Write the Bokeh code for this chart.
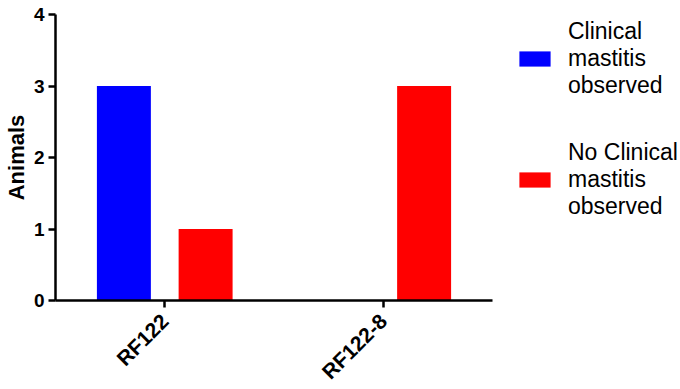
import math
from bokeh.plotting import figure
from bokeh.models import (FactorRange, Range1d, Legend, LegendItem,
                          ColumnDataSource, FixedTicker)
from bokeh.transform import dodge
from bokeh.embed import file_html
from bokeh.resources import INLINE

groups = ["RF122", "RF122-8"]
clinical = [3, 0]
no_clinical = [1, 3]
series_labels = ["Clinical\nmastitis\nobserved", "No Clinical\nmastitis\nobserved"]
colors = ["#0000FF", "#FF0000"]
y_ticks = [0, 1, 2, 3, 4]

src = ColumnDataSource(dict(g=groups, c=clinical, n=no_clinical))

p = figure(frame_width=437, frame_height=286,
           x_range=FactorRange(factors=groups, range_padding=0),
           y_range=Range1d(0, 4),
           output_backend="svg", toolbar_location=None,
           min_border_top=14, min_border_left=0, min_border_right=0,
           min_border_bottom=81)

r1 = p.vbar(x=dodge("g", -0.187, range=p.x_range), top="c", width=0.247,
            source=src, fill_color=colors[0], line_color=None)
r2 = p.vbar(x=dodge("g", 0.187, range=p.x_range), top="n", width=0.247,
            source=src, fill_color=colors[1], line_color=None)

p.outline_line_color = None
p.xgrid.visible = False
p.ygrid.visible = False

for ax in (p.xaxis[0], p.yaxis[0]):
    ax.axis_line_width = 2.5
    ax.axis_line_color = "black"
    ax.major_tick_line_width = 2.5
    ax.major_tick_in = 0
    ax.major_tick_out = 7
    ax.minor_tick_line_color = None
    ax.major_label_text_font = "Liberation Sans"
    ax.major_label_text_font_style = "bold"
    ax.major_label_text_font_size = "19px"
    ax.major_label_text_color = "black"

p.xaxis[0].major_label_text_font_size = "21px"
p.yaxis[0].ticker = FixedTicker(ticks=y_ticks)
p.yaxis[0].axis_label = "Animals"
p.yaxis[0].axis_label_text_font = "Liberation Sans"
p.yaxis[0].axis_label_text_font_style = "bold"
p.yaxis[0].axis_label_text_font_size = "22px"
p.yaxis[0].axis_label_text_color = "black"
p.yaxis[0].axis_label_standoff = 2
p.yaxis[0].major_label_standoff = 4
p.xaxis[0].major_label_orientation = math.pi / 4
p.xaxis[0].major_label_standoff = 10

legend = Legend(items=[LegendItem(label=series_labels[0], renderers=[r1]),
                       LegendItem(label=series_labels[1], renderers=[r2])],
                location=(23, 80),
                glyph_width=39, glyph_height=19,
                label_text_font="Liberation Sans",
                label_text_font_size="23px",
                label_text_color="black",
                label_text_line_height=1.2,
                label_standoff=14, spacing=40, padding=0, margin=0,
                border_line_color=None, background_fill_alpha=0)
p.add_layout(legend, "right")

open("out.html", "w").write(file_html(p, INLINE))
